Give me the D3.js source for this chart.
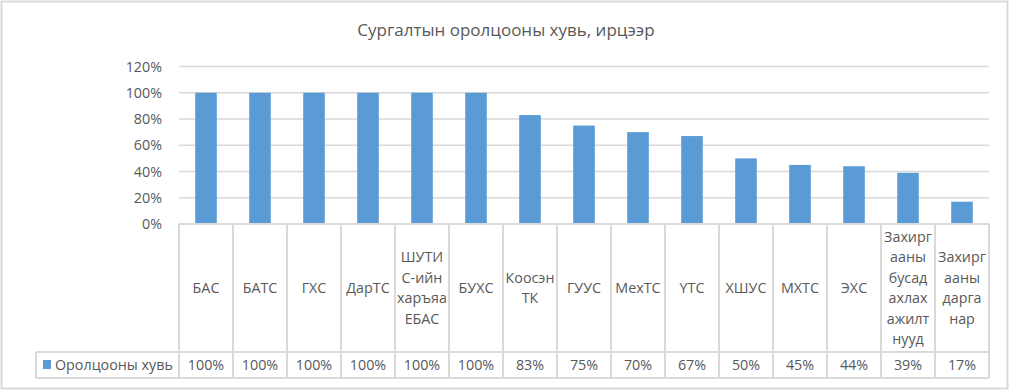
<!DOCTYPE html>
<html>
<head>
<meta charset="utf-8">
<script src="https://cdn.jsdelivr.net/npm/d3@7"></script>
<style>
  body { margin: 0; background: #fff; }
  text { font-family: "Open Sans", "Noto Sans", sans-serif; fill: #595959; }
</style>
</head>
<body>
<div id="chart"></div>
<script>
// data
const categories = [
  ["БАС"], ["БАТС"], ["ГХС"], ["ДарТС"], ["ШУТИ", "С-ийн", "харъяа", "ЕБАС"], ["БУХС"],
  ["Коосэн", "ТК"], ["ГУУС"], ["МехТС"], ["ҮТС"], ["ХШУС"], ["МХТС"], ["ЭХС"],
  ["Захирг", "ааны", "бусад", "ахлах", "ажилт", "нууд"], ["Захирг", "ааны", "дарга", "нар"]
]
const values = [100, 100, 100, 100, 100, 100, 83, 75, 70, 67, 50, 45, 44, 39, 17]
const yTicks = [0, 20, 40, 60, 80, 100, 120]
const seriesName = "Оролцооны хувь"
const title = "Сургалтын оролцооны хувь, ирцээр"

const W = 1013, H = 391
const plot = { left: 179, right: 989, top: 66.5, bottom: 224 }
const tableMid = 352, tableBottom = 378, legendLeft = 36
const grid = "#d9d9d9"
const fs = "14.3px"

const svg = d3.select("#chart").append("svg")
  .attr("width", W).attr("height", H)

// outer chart border
svg.append("rect")
  .attr("x", 1.5).attr("y", 1.5)
  .attr("width", 1006).attr("height", 387)
  .attr("fill", "#fff").attr("stroke", grid).attr("stroke-width", 2)

svg.append("text")
  .attr("x", 506).attr("y", 36)
  .attr("text-anchor", "middle")
  .style("font-size", "17px")
  .text(title)

const x = d3.scaleBand()
  .domain(d3.range(categories.length))
  .range([plot.left, plot.right])
  .paddingInner(0.6).paddingOuter(0.3)

const xCell = d3.scaleBand()
  .domain(d3.range(categories.length))
  .range([plot.left, plot.right])

const y = d3.scaleLinear()
  .domain([0, 120])
  .range([plot.bottom, plot.top])

// gridlines
svg.append("g")
  .selectAll("line")
  .data(yTicks.filter(d => d > 0))
  .join("line")
  .attr("x1", plot.left).attr("x2", plot.right)
  .attr("y1", d => y(d)).attr("y2", d => y(d))
  .attr("stroke", grid).attr("stroke-width", 1.3)

// y axis labels
svg.append("g")
  .selectAll("text")
  .data(yTicks)
  .join("text")
  .attr("x", 162).attr("y", d => y(d) + 5)
  .attr("text-anchor", "end")
  .style("font-size", fs)
  .text(d => d + "%")

// bars
svg.append("g")
  .selectAll("rect")
  .data(values)
  .join("rect")
  .attr("x", (d, i) => x(i))
  .attr("width", x.bandwidth())
  .attr("y", d => y(d))
  .attr("height", d => y(0) - y(d))
  .attr("fill", "#5b9bd5")

// data table lines
const tbl = svg.append("g").attr("stroke", grid).attr("stroke-width", 2)
tbl.append("line").attr("x1", plot.left).attr("x2", plot.right)
  .attr("y1", plot.bottom).attr("y2", plot.bottom)
tbl.append("line").attr("x1", legendLeft).attr("x2", plot.right)
  .attr("y1", tableMid).attr("y2", tableMid)
tbl.append("line").attr("x1", legendLeft).attr("x2", plot.right)
  .attr("y1", tableBottom).attr("y2", tableBottom)
tbl.append("line").attr("x1", legendLeft).attr("x2", legendLeft)
  .attr("y1", tableMid).attr("y2", tableBottom)
tbl.selectAll(".v")
  .data(d3.range(categories.length + 1))
  .join("line")
  .attr("x1", i => plot.left + i * xCell.step())
  .attr("x2", i => plot.left + i * xCell.step())
  .attr("y1", plot.bottom).attr("y2", tableBottom)

// category labels
const lineH = 20.5
svg.append("g")
  .selectAll("text")
  .data(categories)
  .join("text")
  .attr("text-anchor", "middle")
  .style("font-size", fs)
  .each(function(lines, i) {
    const cx = xCell(i) + xCell.bandwidth() / 2
    const y0 = 288 - (lines.length - 1) * lineH / 2 + 5
    d3.select(this).selectAll("tspan")
      .data(lines)
      .join("tspan")
      .attr("x", cx)
      .attr("y", (l, k) => y0 + k * lineH)
      .text(l => l)
  })

// value row
svg.append("g")
  .selectAll("text")
  .data(values)
  .join("text")
  .attr("x", (d, i) => xCell(i) + xCell.bandwidth() / 2)
  .attr("y", 370)
  .attr("text-anchor", "middle")
  .style("font-size", fs)
  .text(d => d + "%")

// legend key
svg.append("rect")
  .attr("x", 43).attr("y", 360).attr("width", 8).attr("height", 9)
  .attr("fill", "#5b9bd5")
svg.append("text")
  .attr("x", 55).attr("y", 370)
  .style("font-size", fs)
  .text(seriesName)
</script>
</body>
</html>
